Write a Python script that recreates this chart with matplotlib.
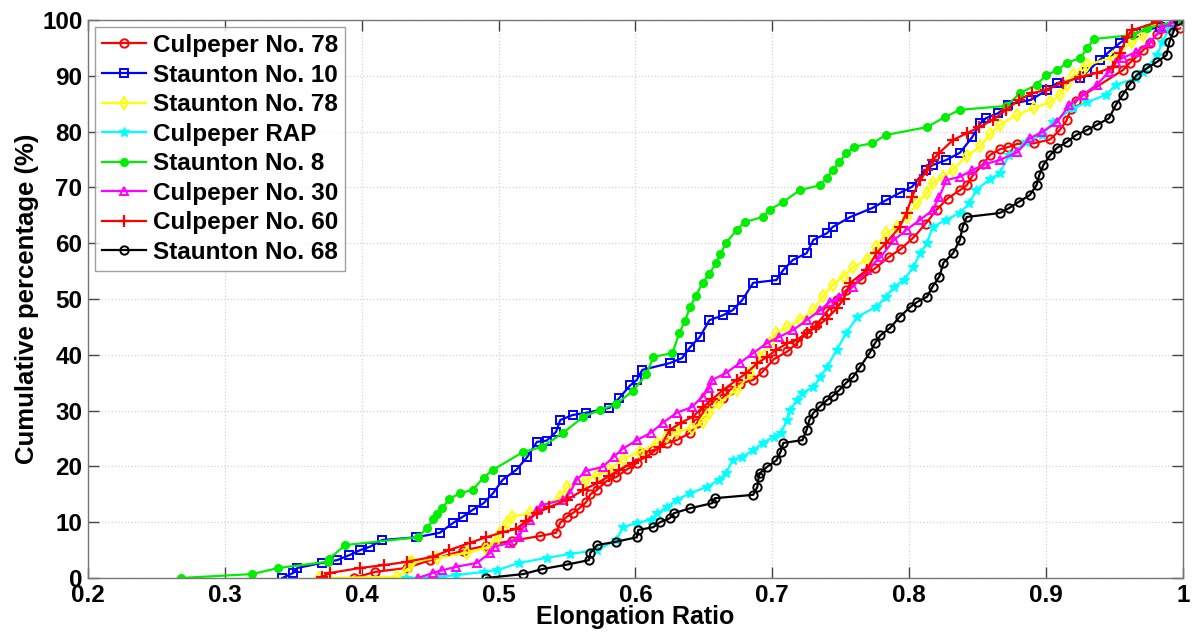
import matplotlib
matplotlib.use("Agg")
import matplotlib.pyplot as plt
from matplotlib.ticker import FuncFormatter

plt.rcParams['font.family'] = ['Liberation Sans', 'DejaVu Sans']
plt.rcParams['font.weight'] = 'bold'

# Culpeper No. 78
cul78_x = [0.394, 0.410, 0.433, 0.450, 0.474, 0.491, 0.510, 0.530, 0.542, 0.545, 0.550, 0.554, 0.559,
           0.564, 0.567, 0.572, 0.579, 0.586, 0.594, 0.601, 0.605, 0.613, 0.623, 0.630, 0.640, 0.645,
           0.649, 0.656, 0.664, 0.669, 0.676, 0.686, 0.693, 0.701, 0.711, 0.718, 0.725, 0.732, 0.740,
           0.747, 0.754, 0.765, 0.775, 0.785, 0.794, 0.803, 0.812, 0.820, 0.828, 0.837, 0.842, 0.846,
           0.854, 0.859, 0.866, 0.872, 0.879, 0.891, 0.903, 0.910, 0.915, 0.918, 0.922, 0.927, 0.956,
           0.961, 0.966, 0.971, 0.976, 0.981, 0.998]
cul78_y = [0, 1.1, 1.8, 3.2, 4.9, 5.8, 6.7, 7.5, 8.1, 9.9, 11, 11.6, 12.5,
           13.6, 15, 15.8, 17.4, 18.1, 19.5, 20.6, 22.4, 22.9, 24.2, 24.7, 26, 27.8,
           29.5, 31.4, 32.3, 33.7, 34.8, 35.5, 37, 39.2, 40.6, 42.1, 43.9, 45.3, 47.8,
           49.8, 51.6, 53.5, 55.5, 57.5, 59, 61, 63.5, 66, 68, 69.5, 70.4, 72,
           74.2, 75.8, 76.8, 77.2, 77.8, 77.9, 78.6, 80.3, 82, 84, 85.5, 86.5, 91,
           92.3, 93.4, 94.6, 95.9, 97.5, 98.5]

# Staunton No. 10
sta10_x = [0.342, 0.350, 0.353, 0.371, 0.382, 0.391, 0.399, 0.406, 0.415, 0.440, 0.457, 0.467, 0.474,
           0.481, 0.489, 0.496, 0.503, 0.513, 0.521, 0.528, 0.535, 0.542, 0.545, 0.554, 0.564, 0.581,
           0.588, 0.596, 0.601, 0.605, 0.625, 0.634, 0.640, 0.647, 0.654, 0.664, 0.671, 0.678, 0.686,
           0.703, 0.708, 0.715, 0.725, 0.730, 0.740, 0.744, 0.757, 0.773, 0.783, 0.793, 0.802, 0.812,
           0.817, 0.827, 0.837, 0.846, 0.852, 0.856, 0.865, 0.872, 0.889, 0.901, 0.908, 0.925, 0.930,
           0.939, 0.946, 0.954, 0.966, 0.983, 0.995]
sta10_y = [0, 0.9, 1.8, 2.7, 3.2, 4.1, 5, 5.6, 6.8, 7.3, 8.1, 9.9, 11,
           12.2, 13.4, 15.2, 17.6, 19.4, 21.7, 24.4, 24.6, 26.2, 28.3, 29.2, 29.6, 30.5,
           32.2, 34.5, 35.5, 37.3, 38.5, 39.4, 41.4, 43.2, 46.2, 47.1, 48, 49.8, 52.9,
           53.4, 55.2, 57, 58.2, 60.6, 61.8, 62.9, 64.7, 66.3, 67.7, 69, 70.1, 73.1,
           74, 74.9, 76.2, 79, 81.5, 82.4, 83.3, 84.8, 85.7, 87.5, 88.7, 89.6, 90.7,
           92.8, 94.3, 95.9, 97.7, 98.8, 100]

# Staunton No. 78
sta78_x = [0.369, 0.426, 0.433, 0.435, 0.437, 0.455, 0.477, 0.491, 0.497, 0.501, 0.506, 0.510, 0.523,
           0.545, 0.550, 0.564, 0.572, 0.581, 0.591, 0.603, 0.616, 0.623, 0.630, 0.641, 0.649, 0.654,
           0.661, 0.674, 0.684, 0.691, 0.698, 0.703, 0.711, 0.720, 0.730, 0.737, 0.744, 0.752, 0.759,
           0.769, 0.776, 0.783, 0.791, 0.798, 0.806, 0.813, 0.817, 0.825, 0.832, 0.842, 0.852, 0.859,
           0.866, 0.879, 0.891, 0.903, 0.910, 0.915, 0.920, 0.927, 0.930, 0.949, 0.963, 0.971, 0.979]
sta78_y = [0, 0.2, 1.4, 2.7, 2.9, 3.6, 4.5, 5.4, 6.3, 8.1, 9.9, 11, 11.6,
           14.5, 16.3, 17.6, 18.5, 19.4, 21.4, 22.6, 24.2, 25.5, 26.2, 26.8, 28, 29.6,
           31.4, 33.7, 36.7, 39.6, 42.1, 43.9, 45, 46.2, 48, 50.5, 52.5, 54, 55.7,
           57, 59.3, 61.8, 62.9, 64.7, 67.2, 69, 70.8, 71.9, 73.2, 75.6, 77.4, 79.5,
           81.2, 83, 84.2, 85.3, 86.6, 88.4, 90.1, 91, 91.9, 93.4, 96, 97.3, 100]

# Culpeper RAP
rap_x = [0.432, 0.459, 0.469, 0.489, 0.499, 0.515, 0.535, 0.552, 0.572, 0.586, 0.591, 0.601, 0.611,
         0.616, 0.623, 0.630, 0.640, 0.652, 0.661, 0.666, 0.671, 0.678, 0.686, 0.693, 0.701, 0.706,
         0.711, 0.713, 0.718, 0.722, 0.730, 0.735, 0.740, 0.747, 0.754, 0.762, 0.776, 0.783, 0.789,
         0.796, 0.803, 0.808, 0.813, 0.817, 0.827, 0.837, 0.844, 0.849, 0.859, 0.866, 0.873, 0.885,
         0.897, 0.905, 0.920, 0.930, 0.944, 0.951, 0.966, 0.971, 0.981, 0.985, 0.990, 0.995]
rap_y = [0, 0.2, 0.5, 1.1, 1.4, 2.7, 3.6, 4.3, 5, 6.8, 9.1, 9.9, 10.4,
         11.6, 12.7, 14, 15.2, 16.3, 17.6, 18.8, 21.1, 21.7, 22.9, 24.2, 25.3, 26,
         28.3, 30.1, 31.9, 33.2, 34.2, 36, 37.8, 40.9, 43.9, 46.8, 48.6, 50.4, 52.2,
         53.4, 55.7, 58.2, 60, 62.9, 64.2, 65.4, 67.2, 69.5, 71.5, 72.5, 75.8, 78.1,
         79.4, 81.7, 84.2, 85.3, 86.6, 88.4, 89.6, 90.7, 93.7, 96, 98.6, 100]

# Staunton No. 8
sta8_x = [0.268, 0.320, 0.339, 0.375, 0.376, 0.388, 0.441, 0.448, 0.452, 0.455, 0.459, 0.464, 0.472,
          0.481, 0.489, 0.496, 0.518, 0.532, 0.547, 0.562, 0.574, 0.586, 0.598, 0.608, 0.613, 0.627,
          0.632, 0.636, 0.640, 0.644, 0.649, 0.654, 0.659, 0.662, 0.666, 0.674, 0.680, 0.693, 0.698,
          0.708, 0.720, 0.735, 0.740, 0.744, 0.749, 0.754, 0.760, 0.773, 0.783, 0.813, 0.826, 0.837,
          0.871, 0.881, 0.893, 0.900, 0.908, 0.915, 0.925, 0.930, 0.935, 0.963, 0.974, 1.000]
sta8_y = [0, 0.7, 1.8, 2.9, 3.4, 5.9, 7.3, 9.0, 10.5, 11.5, 12.5, 14.2, 15.2,
          15.8, 18.0, 19.4, 22.6, 23.5, 26, 28.9, 30.1, 31.2, 33.5, 36.5, 39.6, 40.3,
          43.9, 46, 48.6, 50.5, 52.9, 54.5, 56.5, 58, 60, 62.4, 63.8, 64.7, 66,
          67.4, 69.5, 70.4, 71.7, 73.1, 74.6, 76.1, 77.3, 77.9, 79.4, 80.8, 82.6, 83.9,
          84.6, 86.9, 88.4, 90.1, 91, 92.3, 93.2, 95, 96.6, 97.3, 98.6, 100]

# Culpeper No. 30
cul30_x = [0.441, 0.452, 0.459, 0.469, 0.484, 0.494, 0.497, 0.508, 0.515, 0.518, 0.523, 0.528, 0.532,
           0.547, 0.552, 0.557, 0.564, 0.576, 0.584, 0.591, 0.601, 0.611, 0.620, 0.630, 0.641, 0.649,
           0.654, 0.656, 0.666, 0.676, 0.686, 0.696, 0.705, 0.715, 0.725, 0.735, 0.742, 0.749, 0.759,
           0.769, 0.779, 0.789, 0.798, 0.808, 0.817, 0.822, 0.827, 0.837, 0.846, 0.856, 0.866, 0.879,
           0.888, 0.897, 0.908, 0.917, 0.927, 0.937, 0.946, 0.951, 0.956, 0.966, 0.976, 0.985, 0.993]
cul30_y = [0, 0.9, 1.4, 2, 2.7, 4.5, 5.6, 6.3, 7.3, 9.1, 10.4, 12.2, 13.1,
           14, 15.2, 17.6, 19.2, 19.9, 21.7, 23.2, 24.7, 26, 27.8, 29.6, 30.6, 32.5,
           34, 35.5, 36.7, 38.5, 40.3, 42.1, 43.2, 44.4, 46.2, 48, 49.5, 50.4, 52.2,
           55.2, 57.5, 60.6, 62.4, 64.2, 65.9, 68.3, 71.3, 71.9, 73.1, 74.2, 74.9, 76.3,
           78.8, 79.9, 81.7, 84.8, 86.6, 88.4, 90.7, 92.5, 93.2, 94.3, 96, 98.6, 99.6]

# Culpeper No. 60
cul60_x = [0.371, 0.377, 0.399, 0.416, 0.433, 0.452, 0.464, 0.479, 0.491, 0.503, 0.513, 0.520, 0.528,
           0.537, 0.550, 0.562, 0.572, 0.581, 0.588, 0.598, 0.608, 0.618, 0.625, 0.633, 0.642, 0.649,
           0.656, 0.664, 0.674, 0.681, 0.689, 0.696, 0.703, 0.711, 0.718, 0.725, 0.732, 0.740, 0.747,
           0.752, 0.757, 0.769, 0.776, 0.783, 0.793, 0.798, 0.802, 0.808, 0.813, 0.817, 0.822, 0.832,
           0.842, 0.851, 0.861, 0.871, 0.880, 0.890, 0.900, 0.912, 0.925, 0.937, 0.949, 0.954, 0.959,
           0.963, 0.981]
cul60_y = [0.2, 0.9, 1.8, 2.3, 2.9, 3.8, 5, 6.3, 7.3, 8.2, 8.8, 10.2, 11.6,
           12.7, 14, 15.8, 17, 18.3, 19.4, 20.6, 21.7, 23.5, 26.5, 27.8, 28.9, 30.6,
           32, 33.7, 35.5, 36.7, 38.5, 39.6, 40.9, 42.1, 42.7, 43.9, 45, 46.5, 48.3,
           50, 52.9, 55.2, 58.2, 60, 62.9, 65.4, 68.3, 71.3, 73.1, 74.9, 76.2, 78.5,
           79.7, 80.8, 82.1, 83.9, 85.7, 86.9, 87.5, 88.7, 89.8, 90.5, 91.6, 94, 97,
           98.2, 99.6]

# Staunton No. 68
sta68_x = [0.491, 0.518, 0.532, 0.550, 0.566, 0.567, 0.572, 0.586, 0.601, 0.602, 0.613, 0.618, 0.625,
           0.628, 0.640, 0.656, 0.658, 0.686, 0.689, 0.690, 0.691, 0.696, 0.703, 0.706, 0.708, 0.722,
           0.725, 0.727, 0.730, 0.735, 0.740, 0.744, 0.749, 0.754, 0.759, 0.764, 0.771, 0.775, 0.779,
           0.786, 0.793, 0.801, 0.806, 0.813, 0.817, 0.822, 0.825, 0.832, 0.837, 0.839, 0.842, 0.866,
           0.873, 0.880, 0.888, 0.893, 0.895, 0.898, 0.903, 0.908, 0.915, 0.922, 0.930, 0.937, 0.946,
           0.951, 0.956, 0.961, 0.966, 0.974, 0.981, 0.988, 0.990, 0.993, 0.996]
sta68_y = [0, 0.7, 1.6, 2.4, 3.2, 4.5, 5.9, 6.5, 7.3, 8.6, 9.1, 10, 10.7,
           11.6, 12.5, 13.4, 14.3, 14.9, 16.3, 18.1, 18.8, 19.9, 21.1, 22.6, 24.2, 24.7,
           26.5, 28.3, 29.6, 30.8, 31.9, 32.6, 33.7, 35, 36, 37.8, 40.3, 42.1, 43.5,
           44.8, 46.8, 48.6, 49.5, 50.4, 52.2, 54, 56.5, 58.2, 60.6, 62.9, 64.7, 65.4,
           66.3, 67.4, 68.6, 70.4, 72.2, 74, 75.8, 77.1, 78.1, 79.4, 80.3, 81.2, 82.4,
           84.8, 86.6, 88.4, 90.1, 91.4, 92.5, 93.7, 96, 97.9, 100]

fig = plt.figure(figsize=(11.97, 6.39), dpi=100)
ax = fig.add_axes([0.0735, 0.0955, 0.9148, 0.8732])

lw = 1.6
ax.plot(cul78_x, cul78_y, color='#ff0000', marker='o', ms=6, mfc='none', mew=1.4, lw=lw, label='Culpeper No. 78')
ax.plot(sta10_x, sta10_y, color='#0000ff', marker='s', ms=5.5, mfc='none', mew=1.4, lw=lw, label='Staunton No. 10')
ax.plot(sta78_x, sta78_y, color='#ffff00', marker='d', ms=6.5, mfc='none', mew=1.4, lw=lw, label='Staunton No. 78')
ax.plot(rap_x, rap_y, color='#00ffff', marker='*', ms=7, mew=1.0, lw=lw, label='Culpeper RAP')
ax.plot(sta8_x, sta8_y, color='#00ee00', marker='o', ms=5.5, mew=1.0, lw=lw, label='Staunton No. 8')
ax.plot(cul30_x, cul30_y, color='#ff00ff', marker='^', ms=6, mfc='none', mew=1.4, lw=lw, label='Culpeper No. 30')
ax.plot(cul60_x, cul60_y, color='#ff0000', marker='+', ms=8, mew=1.6, lw=lw, label='Culpeper No. 60')
ax.plot(sta68_x, sta68_y, color='#000000', marker='o', ms=6, mfc='none', mew=1.4, lw=lw, label='Staunton No. 68')

ax.set_xlim(0.2, 1.0)
ax.set_ylim(0, 100)
ax.set_xticks([0.2, 0.3, 0.4, 0.5, 0.6, 0.7, 0.8, 0.9, 1.0])
ax.set_yticks(range(0, 101, 10))
ax.xaxis.set_major_formatter(FuncFormatter(lambda v, p: '%g' % round(v, 2)))
ax.tick_params(direction='in', length=8, width=1, top=True, right=True,
               labelsize=17.5, color='#444444', pad=4)
for lab in ax.get_xticklabels() + ax.get_yticklabels():
    lab.set_fontweight('bold')
for s in ax.spines.values():
    s.set_color('#777777')
    s.set_linewidth(1.0)
ax.grid(True, linestyle=':', color='#d4d4d4', linewidth=0.9)
ax.set_axisbelow(True)

ax.set_xlabel('Elongation Ratio', fontsize=18, fontweight='bold', labelpad=-1)
ax.set_ylabel('Cumulative percentage (%)', fontsize=18.5, fontweight='bold', labelpad=2)

leg = ax.legend(loc='upper left', bbox_to_anchor=(0.006, 0.988),
                prop={'weight': 'bold', 'size': 17.5}, frameon=True, fancybox=False,
                edgecolor='#888888', handlelength=1.8, handletextpad=0.3,
                labelspacing=0.27, borderpad=0.3, borderaxespad=0.0)
leg.get_frame().set_linewidth(1.0)

fig.savefig('out.png', dpi=100)
